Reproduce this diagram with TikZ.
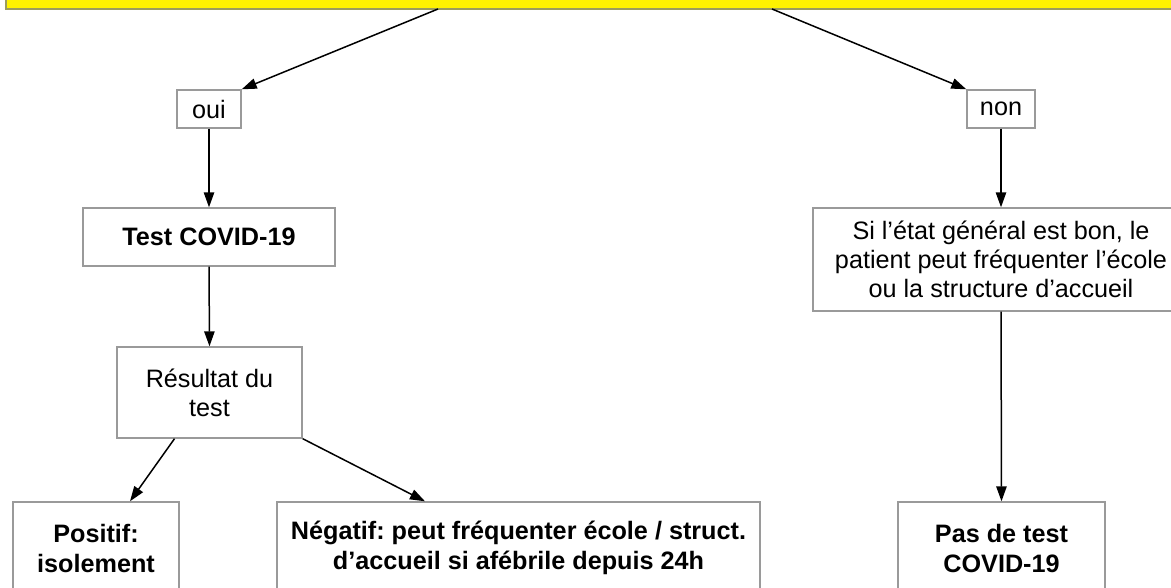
\documentclass[tikz,border=0pt]{standalone}
\usepackage{fontspec}
\setmainfont{Liberation Sans}
\usepackage{tikz}
\usetikzlibrary{shapes,arrows.meta,positioning}
\definecolor{boxline}{HTML}{9A9A9A}
\definecolor{topline}{HTML}{9C9C5E}
\frenchspacing

\begin{document}
\begin{tikzpicture}[x=0.5pt, y=-0.5pt,
    box/.style={rectangle, draw=boxline, line width=0.7pt, align=center, inner sep=0pt, font=\fontsize{12.6}{14.6}\selectfont},
    boldbox/.style={box, font=\fontsize{12.6}{15}\selectfont\bfseries},
    arr/.style={-{Triangle[length=7.5pt, width=5.2pt]}, line width=0.75pt}]
        \clip (0,0) rectangle (1171,588);

        % Question box (cut at the top)
        \node[rectangle, draw=topline, fill=yellow, line width=0.7pt, minimum width=587pt, minimum height=25pt] (question) at (593,-16) {};
        \coordinate (q1) at (438,9);
        \coordinate (q2) at (772,9);

        % Answers
        \node[box, minimum width=32pt, minimum height=19pt] (oui) at (209,109) {oui};
        \node[box, minimum width=34pt, minimum height=19pt] (non) at (1001,109) {non};

        % Left branch
        \node[boldbox, minimum width=126pt, minimum height=29pt] (test) at (209,237) {Test COVID-19};
        \node[box, minimum width=92.5pt, minimum height=45.5pt] (result) at (209.5,392.5) {Résultat du\\test};
        \node[boldbox, minimum width=83pt, minimum height=46pt] (pos) at (96,548) {Positif:\\isolement};
        \node[boldbox, minimum width=241.5pt, minimum height=46pt] (neg) at (518.5,548) {Négatif: peut fréquenter école / struct.\\d’accueil si afébrile depuis 24h};

        % Right branch
        \node[box, minimum width=188pt, minimum height=51.5pt] (etat) at (1001,259.5) {Si l’état général est bon, le\\patient peut fréquenter l’école\\ou la structure d’accueil};
        \node[boldbox, minimum width=103.5pt, minimum height=46pt] (pastest) at (1001.5,548) {Pas de test\\COVID-19};

        % Connections
        \draw[arr] (q1) -- (oui.north east);
        \draw[arr] (q2) -- (non.north west);
        \draw[arr] (oui.south) -- (test.north);
        \draw[arr] (test.south) -- (result.north);
        \draw[arr] ([xshift=-17.5pt]result.south) -- ([xshift=17pt]pos.north);
        \draw[arr] (result.south east) -- ([xshift=-46.75pt]neg.north);
        \draw[arr] (non.south) -- (etat.north);
        \draw[arr] (etat.south) -- (pastest.north);
    \end{tikzpicture}
\end{document}
